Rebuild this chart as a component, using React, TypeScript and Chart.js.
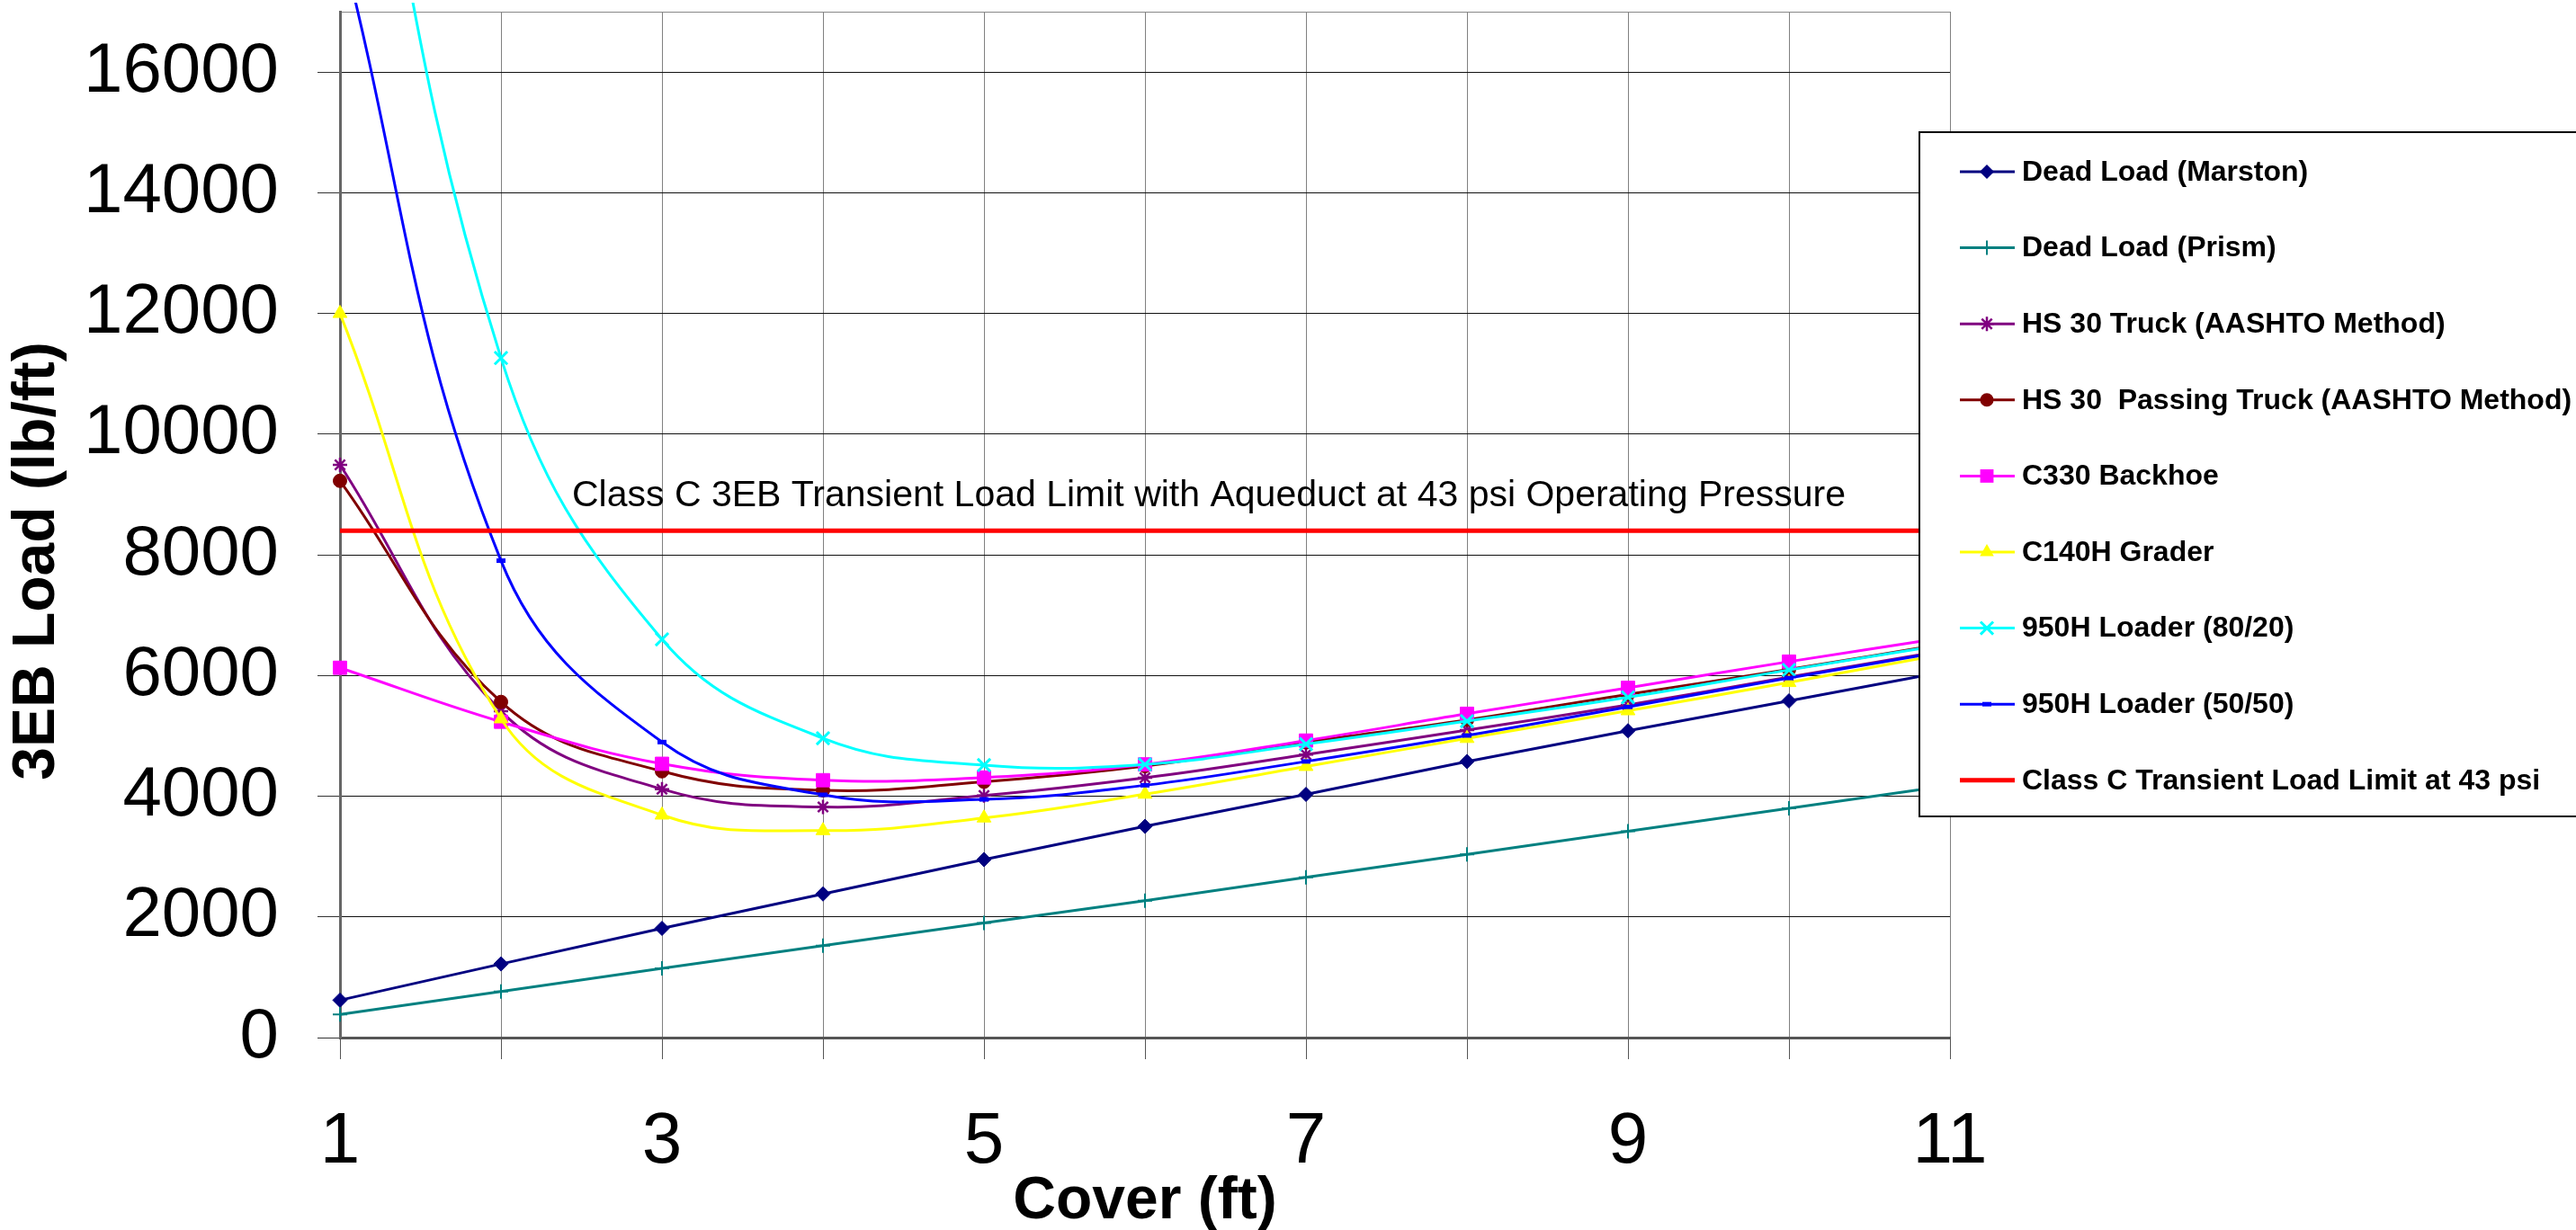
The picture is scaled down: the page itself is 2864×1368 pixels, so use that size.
import React, { useEffect, useRef } from 'react';
import { Chart, registerables } from 'chart.js';

Chart.register(...registerables);

// ---------- data ----------
const coverFt = [1, 2, 3, 4, 5, 6, 7, 8, 9, 10, 11];
const deadLoadMarston = [620, 1220, 1810, 2380, 2950, 3500, 4030, 4575, 5085, 5580, 6080];
const deadLoadPrism = [383, 765, 1148, 1525, 1900, 2270, 2655, 3035, 3420, 3800, 4180];
const hs30Truck = [9490, 5410, 4117, 3821, 4010, 4305, 4690, 5095, 5514, 5975, 6430];
const hs30PassingTruck = [9226, 5562, 4413, 4098, 4240, 4500, 4893, 5265, 5687, 6100, 6540];
const c330Backhoe = [6128, 5234, 4537, 4265, 4310, 4527, 4922, 5366, 5796, 6230, 6640];
const c140hGrader = [12000, 5282, 3688, 3430, 3639, 4033, 4493, 4957, 5416, 5884, 6372];
const loader8020 = [23500, 11262, 6600, 4961, 4515, 4527, 4863, 5243, 5638, 6092, 6525];
const loader5050 = [18200, 7903, 4897, 4023, 3947, 4181, 4576, 5006, 5480, 5958, 6415];
const limitCover = [1, 11];
const limitLoad = [8400, 8400];

const seriesNames = [
  'Dead Load (Marston)',
  'Dead Load (Prism)',
  'HS 30 Truck (AASHTO Method)',
  'HS 30  Passing Truck (AASHTO Method)',
  'C330 Backhoe',
  'C140H Grader',
  '950H Loader (80/20)',
  '950H Loader (50/50)',
  'Class C Transient Load Limit at 43 psi',
];
const xTickValues = [1, 2, 3, 4, 5, 6, 7, 8, 9, 10, 11];
const xTickLabels = ['1', '3', '5', '7', '9', '11'];
const yTickValues = [0, 2000, 4000, 6000, 8000, 10000, 12000, 14000, 16000, 17000];
const yTickLabels = ['0', '2000', '4000', '6000', '8000', '10000', '12000', '14000', '16000'];
const yMax = 17000;
const annotationText = 'Class C 3EB Transient Load Limit with Aqueduct at 43 psi Operating Pressure';
const xTitle = 'Cover (ft)';
const yTitle = '3EB Load (lb/ft)';

const FONT = '"Liberation Sans", Arial, sans-serif';

const pts = (xs: number[], ys: number[]) => xs.map((x, i) => ({ x, y: ys[i] }));

type Sty = { color: string; style: string; r: number; pbw: number; bw: number; tension: number };
const styles: Sty[] = [
  { color: '#000080', style: 'rectRot', r: 8, pbw: 1, bw: 3, tension: 0 },
  { color: '#008080', style: 'cross', r: 8, pbw: 2, bw: 3, tension: 0 },
  { color: '#800080', style: 'star', r: 8, pbw: 2.5, bw: 3, tension: 0.4 },
  { color: '#800000', style: 'circle', r: 7.5, pbw: 1, bw: 3, tension: 0.4 },
  { color: '#FF00FF', style: 'rect', r: 10.5, pbw: 1, bw: 3, tension: 0.4 },
  { color: '#FFFF00', style: 'triangle', r: 9, pbw: 1, bw: 3, tension: 0.4 },
  { color: '#00FFFF', style: 'crossRot', r: 10, pbw: 3, bw: 3, tension: 0.4 },
  { color: '#0000FF', style: 'line', r: 5, pbw: 5, bw: 3, tension: 0.4 },
  { color: '#FF0000', style: 'none', r: 0, pbw: 0, bw: 5, tension: 0 },
];

function drawMarker(ctx: CanvasRenderingContext2D, s: Sty, x: number, y: number) {
  if (s.style === 'none') return;
  const r = s.r;
  ctx.save();
  ctx.fillStyle = s.color;
  ctx.strokeStyle = s.color;
  ctx.lineWidth = s.pbw;
  ctx.beginPath();
  const q = Math.SQRT1_2 * r;
  switch (s.style) {
    case 'circle':
      ctx.arc(x, y, r, 0, Math.PI * 2);
      ctx.fill();
      break;
    case 'rect':
      ctx.rect(x - q, y - q, 2 * q, 2 * q);
      ctx.fill();
      break;
    case 'rectRot':
      ctx.moveTo(x - r, y);
      ctx.lineTo(x, y - r);
      ctx.lineTo(x + r, y);
      ctx.lineTo(x, y + r);
      ctx.closePath();
      ctx.fill();
      break;
    case 'triangle': {
      let a = 0;
      ctx.moveTo(x + Math.sin(a) * r, y - Math.cos(a) * r);
      a += (2 * Math.PI) / 3;
      ctx.lineTo(x + Math.sin(a) * r, y - Math.cos(a) * r);
      a += (2 * Math.PI) / 3;
      ctx.lineTo(x + Math.sin(a) * r, y - Math.cos(a) * r);
      ctx.closePath();
      ctx.fill();
      break;
    }
    case 'cross':
      ctx.moveTo(x, y - r);
      ctx.lineTo(x, y + r);
      ctx.moveTo(x - r, y);
      ctx.lineTo(x + r, y);
      ctx.stroke();
      break;
    case 'crossRot':
      ctx.moveTo(x - q, y - q);
      ctx.lineTo(x + q, y + q);
      ctx.moveTo(x - q, y + q);
      ctx.lineTo(x + q, y - q);
      ctx.stroke();
      break;
    case 'star':
      ctx.moveTo(x, y - r);
      ctx.lineTo(x, y + r);
      ctx.moveTo(x - r, y);
      ctx.lineTo(x + r, y);
      ctx.moveTo(x - q, y - q);
      ctx.lineTo(x + q, y + q);
      ctx.moveTo(x - q, y + q);
      ctx.lineTo(x + q, y - q);
      ctx.stroke();
      break;
    case 'line':
      ctx.moveTo(x - r, y);
      ctx.lineTo(x + r, y);
      ctx.stroke();
      break;
  }
  ctx.restore();
}

const overlayPlugin = {
  id: 'overlay',
  afterDraw(chart: any) {
    const ctx: CanvasRenderingContext2D = chart.ctx;
    const area = chart.chartArea;
    ctx.save();
    // annotation text
    ctx.fillStyle = '#000';
    ctx.font = `41px ${FONT}`;
    ctx.textAlign = 'left';
    ctx.textBaseline = 'alphabetic';
    ctx.fillText(annotationText, 636, 563);

    // axis titles
    ctx.font = `bold 66px ${FONT}`;
    ctx.textAlign = 'center';
    ctx.fillText(xTitle, (area.left + area.right) / 2, 1355);
    ctx.save();
    ctx.translate(60, 624);
    ctx.rotate(-Math.PI / 2);
    ctx.fillText(yTitle, 0, 0);
    ctx.restore();

    // legend box
    const bx = 2134, by = 147, bw = 760, bh = 908 - 147;
    ctx.fillStyle = '#fff';
    ctx.fillRect(bx, by, bw, bh);
    ctx.strokeStyle = '#000';
    ctx.lineWidth = 2;
    ctx.strokeRect(bx, by, bw, bh);
    ctx.font = `bold 32px ${FONT}`;
    ctx.textAlign = 'left';
    ctx.textBaseline = 'middle';
    seriesNames.forEach((name, i) => {
      const s = styles[i];
      const y = 191 + i * 84.6;
      ctx.strokeStyle = s.color;
      ctx.lineWidth = s.bw;
      ctx.beginPath();
      ctx.moveTo(2179, y);
      ctx.lineTo(2240, y);
      ctx.stroke();
      drawMarker(ctx, s, 2209, y);
      ctx.fillStyle = '#000';
      ctx.fillText(name, 2248, y + 1);
    });
    ctx.restore();
  },
};

export default function App() {
  const ref = useRef<HTMLCanvasElement>(null);
  useEffect(() => {
    const seriesValues = [
      deadLoadMarston,
      deadLoadPrism,
      hs30Truck,
      hs30PassingTruck,
      c330Backhoe,
      c140hGrader,
      loader8020,
      loader5050,
    ];
    const datasets: any[] = seriesValues.map((vals, i) => {
      const s = styles[i];
      return {
        label: seriesNames[i],
        data: pts(coverFt, vals),
        borderColor: s.color,
        backgroundColor: s.color,
        borderWidth: s.bw,
        pointStyle: s.style,
        pointRadius: s.r,
        pointBorderWidth: s.pbw,
        pointBorderColor: s.color,
        pointBackgroundColor: s.color,
        tension: s.tension,
        order: 9 - i,
        clip: { left: 14, right: 14, top: 10, bottom: 14 },
      };
    });
    datasets.push({
      label: seriesNames[8],
      data: pts(limitCover, limitLoad),
      borderColor: styles[8].color,
      backgroundColor: styles[8].color,
      borderWidth: styles[8].bw,
      pointRadius: 0,
      tension: 0,
      order: 0,
    });

    const chart = new Chart(ref.current as HTMLCanvasElement, {
      type: 'line',
      data: { datasets },
      plugins: [overlayPlugin],
      options: {
        responsive: false,
        devicePixelRatio: 1,
        animation: false,
        layout: { padding: { left: 0, right: 2864 - 2168, top: 5, bottom: 0 } },
        plugins: { legend: { display: false }, tooltip: { enabled: false } },
        scales: {
          x: {
            type: 'linear',
            min: 1,
            max: 11,
            afterBuildTicks: (scale: any) => {
              scale.ticks = xTickValues.map((v) => ({ value: v }));
            },
            afterFit: (scale: any) => {
              scale.height = 214;
              scale.paddingLeft = 0;
              scale.paddingRight = 0;
            },
            ticks: {
              autoSkip: false,
              maxRotation: 0,
              minRotation: 0,
              padding: 45,
              color: '#000',
              font: { family: FONT, size: 80 },
              callback: (v: any) => (xTickLabels.includes(String(v)) ? String(v) : ''),
            },
            grid: {
              color: '#808080',
              lineWidth: 1,
              tickLength: 24,
              tickColor: '#555',
            },
            border: { color: '#555', width: 3 },
          },
          y: {
            type: 'linear',
            min: 0,
            max: yMax,
            afterBuildTicks: (scale: any) => {
              scale.ticks = yTickValues.map((v) => ({ value: v }));
            },
            afterFit: (scale: any) => {
              scale.width = 378;
              scale.paddingTop = 0;
              scale.paddingBottom = 0;
            },
            ticks: {
              autoSkip: false,
              padding: 43,
              color: '#000',
              font: { family: FONT, size: 78 },
              callback: (v: any) => (yTickLabels.includes(String(v)) ? String(v) : ''),
            },
            grid: {
              color: (c: any) => (c.tick && c.tick.value === yMax ? '#888' : '#111'),
              lineWidth: 1,
              tickLength: 25,
              tickColor: (c: any) => (c.tick && c.tick.value === yMax ? 'rgba(0,0,0,0)' : '#333'),
            },
            border: { color: '#666', width: 3 },
          },
        },
      } as any,
    });
    return () => chart.destroy();
  }, []);
  return (
    <div style={{ position: 'fixed', left: 0, top: 0, width: 2864, height: 1368, background: '#fff' }}>
      <canvas ref={ref} width={2864} height={1368} style={{ width: 2864, height: 1368, display: 'block' }} />
    </div>
  );
}
